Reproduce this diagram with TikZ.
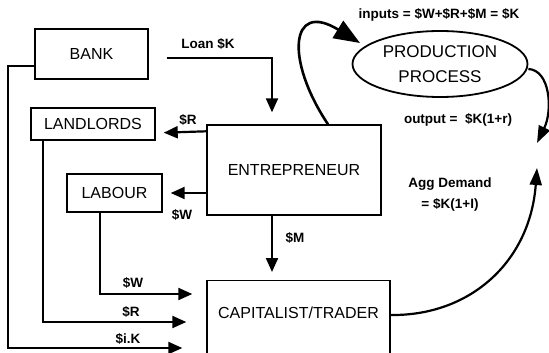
\documentclass[tikz,border=0pt]{standalone}
\usepackage{fontspec}
\setmainfont{Liberation Sans}
\usepackage{tikz}
\usetikzlibrary{positioning, shapes.geometric, arrows.meta, calc}

\begin{document}
\begin{tikzpicture}[x=1pt, y=-1pt,
  box/.style={rectangle, draw=black, line width=1.4pt, font=\fontsize{16}{19}\selectfont, align=center, inner sep=0pt},
  lbl/.style={font=\fontsize{13.5}{21}\selectfont\bfseries, align=center, inner sep=0pt},
  flow/.style={-{Triangle[length=14pt,width=12pt]}, line width=2.2pt},
  bigflow/.style={-{Triangle[length=26pt,width=20pt]}, line width=2.6pt},
  curveflow/.style={-{Triangle[length=17pt,width=12pt]}, line width=2.2pt}
]
\useasboundingbox (0,0) rectangle (549,353);

% Boxes (left)
\node[box, minimum width=113pt, minimum height=50pt] (bank) at (91.5,54) {BANK};
\node[box, minimum width=124pt, minimum height=32pt] (landlords) at (93,124) {LANDLORDS};
\node[box, minimum width=95pt, minimum height=38pt] (labour) at (114.5,193) {LABOUR};

% Centre
\node[box, minimum width=174pt, minimum height=90pt] (entre) at (294,170) {ENTREPRENEUR};
\node[box, anchor=north, minimum width=183pt, text height=12pt, text depth=40pt, inner ysep=26pt] (trader) at (298.5,280) {CAPITALIST/TRADER};

% Production
\node[ellipse, draw=black, line width=1.8pt, minimum width=175pt, minimum height=66pt, inner sep=0pt,
  align=center, font=\fontsize{17}{25}\selectfont] (prod) at (440,64) {PRODUCTION\\PROCESS};
\coordinate (outp) at (537,143);
\coordinate (aggd) at (537,168);

% Money flows
\draw[flow, shorten >=12pt] ([xshift=18pt,yshift=-4pt]bank.east) -| ([xshift=-22pt]entre.north);
\draw[flow] ([yshift=-7pt]entre.north west) -- ([xshift=8pt,yshift=8pt]landlords.south east);
\draw[flow, shorten >=8pt] (entre.west |- labour.east) -- (labour.east);
\draw[flow, shorten >=8pt] ([xshift=-22pt]entre.south) -- ([xshift=-26.5pt]trader.north);
\draw[flow, shorten >=14pt] ([xshift=-14.5pt]labour.south) |- ([yshift=-14pt]trader.north west);
\draw[flow, shorten >=20pt] ([xshift=-50pt]landlords.south) |- ([yshift=-42pt]trader.north west);
\draw[flow, shorten >=24pt] ([yshift=-12pt]bank.west) -- ++(-26,0) |- ([yshift=-68pt]trader.north west);

% Curves
\draw[bigflow] ([xshift=34pt]entre.north) .. controls (285,60) and (290,0) .. ([xshift=-80pt,yshift=21pt]prod.center);
\draw[curveflow] ([yshift=-5pt]prod.east) .. controls (550,70) and (553,110) .. (outp);
\draw[curveflow] ([yshift=-35pt]trader.north east) .. controls (470,316) and (530,262) .. (aggd);

% Labels
\node[lbl] (loanlbl) at (208,44) {Loan \$K};
\node[lbl] (rlbl) at (188,120) {\$R};
\node[lbl] (wlbl) at (182,215) {\$W};
\node[lbl] (mlbl) at (295,238) {\$M};
\node[lbl] (wpay) at (133,283) {\$W};
\node[lbl] (rpay) at (131,312) {\$R};
\node[lbl] (ikpay) at (128,339) {\$i.K};
\node[lbl] (inlbl) at (439,15) {inputs = \$W+\$R+\$M = \$K};
\node[lbl] (outlbl) at (458,120) {output = \ \$K(1+r)};
\node[lbl] (agglbl) at (450,195) {Agg Demand\\= \$K(1+I)};
\end{tikzpicture}
\end{document}
